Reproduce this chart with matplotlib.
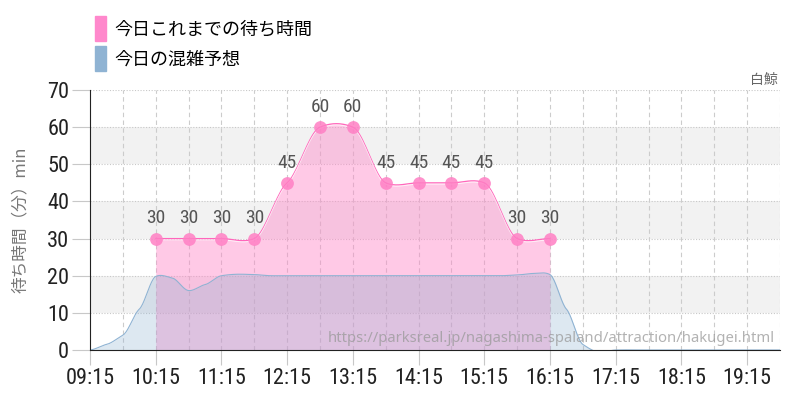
import numpy as np
import matplotlib
matplotlib.use("Agg")
import matplotlib.pyplot as plt
from matplotlib.patches import Patch
from matplotlib import font_manager as fm

# ---- data ----
wait_times = ["10:15", "10:45", "11:15", "11:45", "12:15", "12:45", "13:15",
              "13:45", "14:15", "14:45", "15:15", "15:45", "16:15"]
wait_values = [30, 30, 30, 30, 45, 60, 60, 45, 45, 45, 45, 30, 30]

forecast_times = ["09:15", "09:30", "09:45", "10:00", "10:15", "10:30", "10:45",
                  "11:00", "11:15", "11:30", "11:45", "12:00", "12:15", "12:45",
                  "13:15", "13:45", "14:15", "14:45", "15:15", "15:30", "15:45",
                  "16:00", "16:15", "16:30", "16:45", "17:00", "17:15", "17:45",
                  "18:15", "18:45", "19:15", "19:45"]
forecast_values = [0, 1.5, 4, 11, 19.8, 19.4, 16, 17.6, 20, 20.4, 20.3, 20, 20, 20,
                   20, 20, 20, 20, 20, 20, 20.2, 20.6, 20.3, 11, 1.5, -0.6, 0, 0,
                   0, 0, 0, 0]

x_ticks = ["09:15", "10:15", "11:15", "12:15", "13:15", "14:15", "15:15",
           "16:15", "17:15", "18:15", "19:15"]
y_ticks = [0, 10, 20, 30, 40, 50, 60, 70]

legend_labels = ["今日これまでの待ち時間", "今日の混雑予想"]
y_label = "待ち時間（分）min"
title_right = "白鯨"
source = "https://parksreal.jp/nagashima-spaland/attraction/hakugei.html"


def to_h(t):
    h, m = t.split(":")
    return int(h) + int(m) / 60.0


def catmull(x, y, n=20):
    x = np.asarray(x, float)
    y = np.asarray(y, float)
    px = np.concatenate([[2 * x[0] - x[1]], x, [2 * x[-1] - x[-2]]])
    py = np.concatenate([[y[0]], y, [y[-1]]])
    xs, ys = [], []
    for i in range(1, len(px) - 2):
        t = np.linspace(0, 1, n, endpoint=False)
        p0, p1, p2, p3 = py[i - 1], py[i], py[i + 1], py[i + 2]
        m1 = (p2 - p0) / (px[i + 1] - px[i - 1]) * (px[i + 1] - px[i])
        m2 = (p3 - p1) / (px[i + 2] - px[i]) * (px[i + 1] - px[i])
        h00 = 2 * t**3 - 3 * t**2 + 1
        h10 = t**3 - 2 * t**2 + t
        h01 = -2 * t**3 + 3 * t**2
        h11 = t**3 - t**2
        ys.append(h00 * p1 + h10 * m1 * 0.5 + h01 * p2 + h11 * m2 * 0.5)
        xs.append(px[i] + t * (px[i + 1] - px[i]))
    xs.append([x[-1]])
    ys.append([y[-1]])
    return np.concatenate(xs), np.concatenate(ys)


wx = [to_h(t) for t in wait_times]
fx = [to_h(t) for t in forecast_times]

names = {f.name for f in fm.fontManager.ttflist}
CJK = ["Noto Sans CJK JP", "DejaVu Sans"]
if "Roboto Condensed" in names:
    NUMP = dict(family="Roboto Condensed")
elif "Liberation Sans Narrow" in names:
    NUMP = dict(family="Liberation Sans Narrow")
elif "DejaVu Sans" in names and any(
        f.name == "DejaVu Sans" and f.stretch == "condensed"
        for f in fm.fontManager.ttflist):
    NUMP = dict(family="DejaVu Sans", stretch="condensed")
else:
    NUMP = dict(family="Roboto")

fig = plt.figure(figsize=(8, 4), dpi=100)
ax = fig.add_axes([0.1125, 0.125, 0.8625, 0.65])

xmin, xmax = to_h("09:15"), to_h("19:45")
ax.set_xlim(xmin, xmax)
ax.set_ylim(0, 70)

for lo in (10, 30, 50):
    ax.axhspan(lo, lo + 10, color="#f2f2f2", zorder=0, lw=0)
for yv in y_ticks[1:]:
    ax.axhline(yv, color="#c8c8c8", lw=0.8, ls=(0, (1, 1.5)), zorder=1)
xv = xmin + 0.5
while xv <= xmax + 1e-6:
    ax.axvline(xv, color="#cccccc", lw=0.8, ls=(0, (4, 3)), zorder=1)
    xv += 0.5

# pink wait area
sx, sy = catmull(wx, wait_values)
ax.fill_between(sx, 0, sy, color="#ff88c8", alpha=0.45, lw=0, zorder=2)
ax.plot(sx, sy, color="#ff66bb", lw=0.9, zorder=4)
ax.plot(sx, sy - 0.35, color="white", lw=0.6, zorder=4, alpha=0.8)

# blue forecast area
bx, by = catmull(fx, forecast_values)
ax.fill_between(bx, 0, by, color="#8fb3d3", alpha=0.3, lw=0, zorder=3)
ax.plot(bx, by, color="#8fb3d3", lw=0.8, zorder=3)

ax.scatter(wx, wait_values, s=85, color="#ff7fc4", alpha=0.85, zorder=5, lw=0)
for x, v in zip(wx, wait_values):
    ax.text(x, v + 3.0, str(v), ha="center", va="bottom", fontsize=14,
            color="#555555", zorder=6, **NUMP)

ax.set_xticks([to_h(t) for t in x_ticks])
ax.set_xticklabels(x_ticks, fontsize=16, color="#222222", **NUMP)
ax.set_yticks(y_ticks)
ax.set_yticklabels([str(v) for v in y_ticks], fontsize=16,
                   color="#222222", **NUMP)
ax.tick_params(axis="x", length=11, color="#c8c8c8", width=0.8, pad=2)
ax.tick_params(axis="y", length=13, color="#c8c8c8", width=0.8, pad=2)

for s in ("top", "right"):
    ax.spines[s].set_visible(False)
ax.spines["left"].set_color("#222222")
ax.spines["bottom"].set_color("#222222")
ax.spines["left"].set_zorder(7)
ax.spines["bottom"].set_zorder(7)

fig.text(0.026, 0.45, y_label, rotation=90, ha="center", va="center",
         fontsize=12, color="#777777", family=CJK)
fig.text(0.972, 0.8, title_right, ha="right", va="center", fontsize=10,
         color="#666666", family=CJK)
fig.text(0.969, 0.155, source, ha="right", va="center", fontsize=10.7,
         color="#999999", alpha=0.75, family=["Noto Sans", "DejaVu Sans"],
         zorder=10)

handles = [Patch(color="#ff88cc"), Patch(color="#8fb3d3")]
fig.legend(handles, legend_labels, loc="upper left",
           bbox_to_anchor=(0.119, 0.96), frameon=False,
           prop={"family": CJK, "size": 13}, handlelength=0.6,
           handleheight=1.75, handletextpad=0.45, labelspacing=0.3,
           borderpad=0, borderaxespad=0)

fig.savefig("out.png", dpi=100)
